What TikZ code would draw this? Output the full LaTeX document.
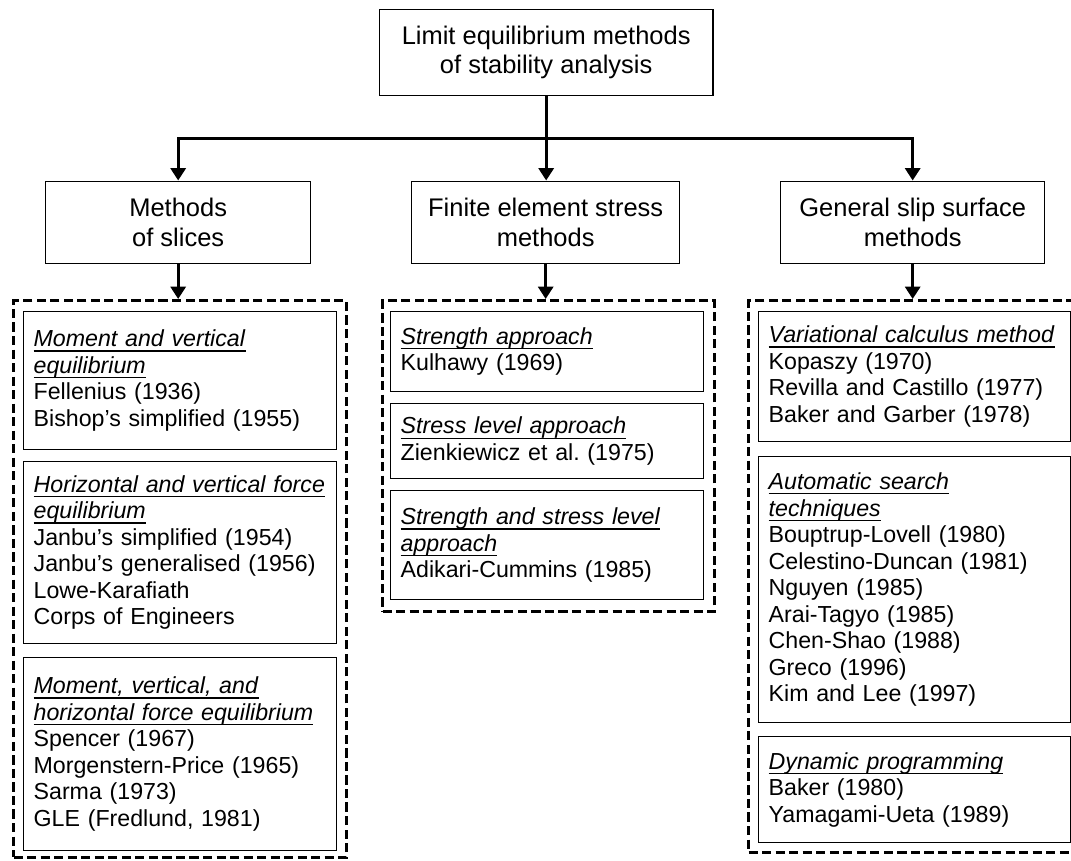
\documentclass[tikz,border=0pt]{standalone}
\usepackage{fontspec}
\setmainfont{Liberation Sans}
\usepackage{tikz}
\usetikzlibrary{arrows.meta}
\frenchspacing
\newsavebox{\ttlbox}
\newcommand{\ttl}[1]{\sbox{\ttlbox}{\textit{#1}}\usebox{\ttlbox}\llap{\rule[-2.8pt]{\wd\ttlbox}{0.75pt}}}

\begin{document}
\begin{tikzpicture}[x=0.02cm, y=-0.02cm,
  head/.style={draw, line width=0.8pt, anchor=north west, align=center, inner sep=0pt,
    font=\fontsize{14.5}{17}\selectfont},
  method/.style={draw, line width=0.75pt, anchor=north west, align=left, inner xsep=0.2cm, inner ysep=0pt,
    font=\fontsize{13.2}{15.1}\selectfont},
  group/.style={draw, line width=1.8pt, dash pattern=on 5.2pt off 2.5pt, anchor=north west},
  conn/.style={line width=1.7pt, -{Triangle[length=7pt,width=8.5pt]}}]

\useasboundingbox (0,0) rectangle (1071,860);
\clip (0,0) rectangle (1071,860);

% top level
\node [head, minimum width=6.68cm, minimum height=1.726cm] (top) at (378.5,8.6) {Limit equilibrium methods\\of stability analysis};

% second level
\node [head, minimum width=5.3cm, minimum height=1.65cm] (slices) at (45,180.5) {Methods\\of slices};
\node [head, minimum width=5.36cm, minimum height=1.65cm] (fem) at (411,180.5) {Finite element stress\\methods};
\node [head, minimum width=5.28cm, minimum height=1.65cm] (slip) at (780,180.5) {General slip surface\\methods};

% dashed groups
\node [group, minimum width=6.66cm, minimum height=11.14cm] (slicesgrp) at (12,299) {};
\node [group, minimum width=6.64cm, minimum height=6.22cm] (femgrp) at (381,299) {};
\node [group, minimum width=6.68cm, minimum height=11.04cm] (slipgrp) at (747,299) {};

% methods of slices
\node [method, text width=5.86cm, minimum height=2.76cm] (slices1) at (23,311) {\ttl{Moment and vertical}\\ \ttl{equilibrium}\\ Fellenius (1936)\\ Bishop's simplified (1955)};
\node [method, text width=5.86cm, minimum height=3.64cm] (slices2) at (23,461) {\ttl{Horizontal and vertical force}\\ \ttl{equilibrium}\\ Janbu's simplified (1954)\\ Janbu's generalised (1956)\\ Lowe-Karafiath\\ Corps of Engineers};
\node [method, text width=5.86cm, minimum height=3.86cm] (slices3) at (23,657) {\ttl{Moment, vertical, and}\\ \ttl{horizontal force equilibrium}\\ Spencer (1967)\\ Morgenstern-Price (1965)\\ Sarma (1973)\\ GLE (Fredlund, 1981)};

% finite element
\node [method, text width=5.86cm, minimum height=1.6cm] (fem1) at (390,311) {\ttl{Strength approach}\\ Kulhawy (1969)};
\node [method, text width=5.86cm, minimum height=1.5cm] (fem2) at (390,403) {\ttl{Stress level approach}\\ Zienkiewicz et al. (1975)};
\node [method, text width=5.86cm, minimum height=2.18cm] (fem3) at (390,490) {\ttl{Strength and stress level}\\ \ttl{approach}\\ Adikari-Cummins (1985)};

% general slip surface
\node [method, text width=5.84cm, minimum height=2.6cm] (slip1) at (758,311) {\ttl{Variational calculus method}\\ Kopaszy (1970)\\ Revilla and Castillo (1977)\\ Baker and Garber (1978)};
\node [method, text width=5.84cm, minimum height=5.32cm] (slip2) at (758,456) {\ttl{Automatic search}\\ \ttl{techniques}\\ Bouptrup-Lovell (1980)\\ Celestino-Duncan (1981)\\ Nguyen (1985)\\ Arai-Tagyo (1985)\\ Chen-Shao (1988)\\ Greco (1996)\\ Kim and Lee (1997)};
\node [method, text width=5.84cm, minimum height=2.12cm] (slip3) at (758,736) {\ttl{Dynamic programming}\\ Baker (1980)\\ Yamagami-Ueta (1989)};

% connectors
\path (top.south) -- (top.south |- fem.north) coordinate [midway] (split);
\draw [conn] (top.south) -- (top.south |- fem.north);
\draw [conn] (split) -| (slices.north);
\draw [conn] (split) -| (slip.north);
\draw [conn] (slices.south) -- (slices.south |- slicesgrp.north);
\draw [conn] (fem.south) -- (fem.south |- femgrp.north);
\draw [conn] (slip.south) -- (slip.south |- slipgrp.north);

\end{tikzpicture}
\end{document}
